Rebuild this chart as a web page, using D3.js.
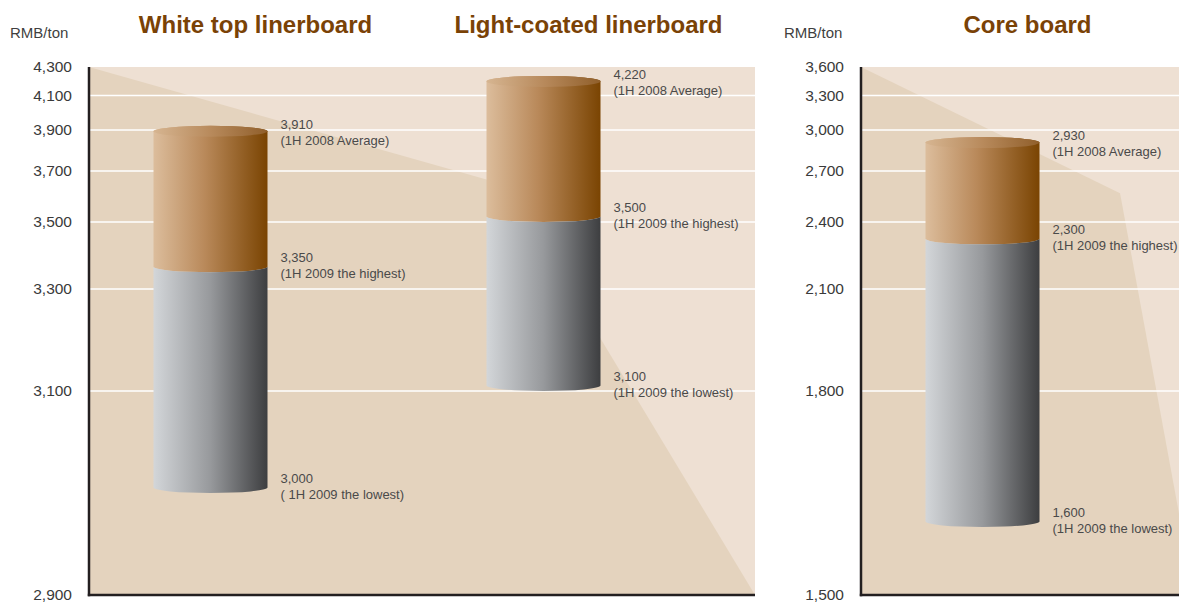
<!DOCTYPE html>
<html>
<head>
<meta charset="utf-8">
<script src="https://cdn.jsdelivr.net/npm/d3@7"></script>
<style>
  html, body { margin: 0; padding: 0; background: #ffffff; }
  svg { display: block; }
  text { font-family: "Liberation Sans", Arial, Helvetica, sans-serif; }
</style>
</head>
<body>
<svg id="chart" width="1179" height="602"></svg>
<script>
// ---------------- DATA ----------------
const categories = ["White top linerboard", "Light-coated linerboard", "Core board"];
const panelOf = [0, 0, 1];
const avg2008 = [3910, 4220, 2930];
const high2009 = [3350, 3500, 2300];
const low2009 = [3000, 3100, 1600];
const avgNotes = ["(1H 2008 Average)", "(1H 2008 Average)", "(1H 2008 Average)"];
const highNotes = ["(1H 2009 the highest)", "(1H 2009 the highest)", "(1H 2009 the highest)"];
const lowNotes = ["( 1H 2009 the lowest)", "(1H 2009 the lowest)", "(1H 2009 the lowest)"];
const leftTicks = [2900, 3100, 3300, 3500, 3700, 3900, 4100, 4300];
const rightTicks = [1500, 1800, 2100, 2400, 2700, 3000, 3300, 3600];
const unitLabel = "RMB/ton";

// ---------------- LAYOUT ----------------
const svg = d3.select("#chart");
const plotTop = 67, plotBottom = 595;
// pixel positions of the (non-linear) tick rows, shared by both panels
const tickRows = [595, 391, 289, 222, 171, 130, 95.5, 67];

const panels = [
  { x0: 89, x1: 755, ticks: leftTicks, cats: categories.filter((c, i) => panelOf[i] === 0),
    bend: [0.63, 0.225], unitX: 10 },
  { x0: 861, x1: 1194, ticks: rightTicks, cats: categories.filter((c, i) => panelOf[i] === 1),
    bend: [0.778, 0.239], unitX: 784 }
];
panels.forEach(p => {
  p.y = d3.scaleLinear().domain(p.ticks).range(tickRows);
  p.x = d3.scaleBand().domain(p.cats).range([p.x0, p.x0 + 333 * p.cats.length]);
});

// gradients
const defs = svg.append("defs");
function grad(id, stops) {
  const g = defs.append("linearGradient").attr("id", id)
    .attr("x1", "0%").attr("x2", "100%").attr("y1", "0%").attr("y2", "0%");
  stops.forEach(s => g.append("stop").attr("offset", s[0]).attr("stop-color", s[1]));
}
grad("brown", [[0, "#dcbd9c"], [0.45, "#b9895a"], [1, "#7a4402"]]);
grad("brownTop", [[0, "#d6b591"], [0.5, "#b88a5c"], [1, "#905f2b"]]);
grad("gray", [[0, "#d3d6d9"], [0.5, "#97999c"], [1, "#3d3e40"]]);

// panel backgrounds, gridlines, axes
panels.forEach(p => {
  const g = svg.append("g");
  const w = p.x1 - p.x0;
  g.append("rect").attr("x", p.x0).attr("y", plotTop).attr("width", Math.min(p.x1, 1179) - p.x0)
    .attr("height", plotBottom - plotTop).attr("fill", "#eee0d3");
  g.append("path")
    .attr("d", `M${p.x0},${plotTop} L${p.x0 + p.bend[0] * w},${plotTop + p.bend[1] * (plotBottom - plotTop)} L${p.x1},${plotBottom} L${p.x0},${plotBottom} Z`)
    .attr("fill", "#e4d3be");
  // gridlines
  g.selectAll("line.grid").data(p.ticks.slice(1, -1)).enter().append("line")
    .attr("class", "grid")
    .attr("x1", p.x0).attr("x2", p.x1)
    .attr("y1", d => p.y(d)).attr("y2", d => p.y(d))
    .attr("stroke", "#ffffff").attr("stroke-width", 1.6);
  // tick labels via d3 axis
  const ax = g.append("g").attr("transform", `translate(${p.x0},0)`)
    .call(d3.axisLeft(p.y).tickValues(p.ticks).tickFormat(d3.format(",")).tickSize(0).tickPadding(17));
  ax.select(".domain").remove();
  ax.selectAll("text").attr("font-size", 15.5).attr("fill", "#3a3a3a")
    .attr("font-family", "Liberation Sans, Arial, sans-serif");
  // axis lines
  g.append("line").attr("x1", p.x0).attr("x2", p.x0).attr("y1", plotTop).attr("y2", plotBottom + 1.2)
    .attr("stroke", "#231f20").attr("stroke-width", 2.5);
  g.append("line").attr("x1", p.x0 - 1.2).attr("x2", p.x1).attr("y1", plotBottom).attr("y2", plotBottom)
    .attr("stroke", "#231f20").attr("stroke-width", 2.5);
  // unit label
  svg.append("text").attr("x", p.unitX).attr("y", 38).attr("font-size", 15)
    .attr("fill", "#3f3f3f").text(unitLabel);
});

// cylinders
const cylW = 114, rx = cylW / 2, ry = 5.5, shift = -45;
categories.forEach((cat, i) => {
  const p = panels[panelOf[i]];
  const cx = p.x(cat) + p.x.bandwidth() / 2;
  const g = svg.append("g");
  // title
  g.append("text").attr("x", cx).attr("y", 33).attr("text-anchor", "middle")
    .attr("font-size", 24).attr("font-weight", "bold").attr("fill", "#7a4206").text(cat);

  const c = cx + shift, x0 = c - rx, x1 = c + rx;
  const yTop = p.y(avg2008[i]) + 3;
  const yMid = p.y(high2009[i]) - ry;
  const yBot = p.y(low2009[i]) - ry;

  g.append("path")
    .attr("d", `M${x0},${yTop} L${x0},${yMid} A${rx},${ry} 0 0 0 ${x1},${yMid} L${x1},${yTop} A${rx},${ry} 0 0 0 ${x0},${yTop} Z`)
    .attr("fill", "url(#brown)");
  g.append("path")
    .attr("d", `M${x0},${yMid} A${rx},${ry} 0 0 0 ${x1},${yMid} L${x1},${yBot} A${rx},${ry} 0 0 1 ${x0},${yBot} Z`)
    .attr("fill", "url(#gray)");
  g.append("ellipse").attr("cx", c).attr("cy", yTop).attr("rx", rx).attr("ry", ry)
    .attr("fill", "url(#brownTop)");

  // value labels
  const lx = x1 + 13;
  const fmt = d3.format(",");
  const lab = (v, note, base) => {
    const t = g.append("text").attr("x", lx).attr("y", base).attr("font-size", 13).attr("fill", "#4a4a4a");
    t.append("tspan").attr("x", lx).attr("dy", 0).text(fmt(v));
    t.append("tspan").attr("x", lx).attr("dy", 16).text(note);
  };
  lab(avg2008[i], avgNotes[i], p.y(avg2008[i]) + 0.5);
  lab(high2009[i], highNotes[i], p.y(high2009[i]) - 10.5);
  lab(low2009[i], lowNotes[i], p.y(low2009[i]) - 10.5);
});
</script>
</body>
</html>
